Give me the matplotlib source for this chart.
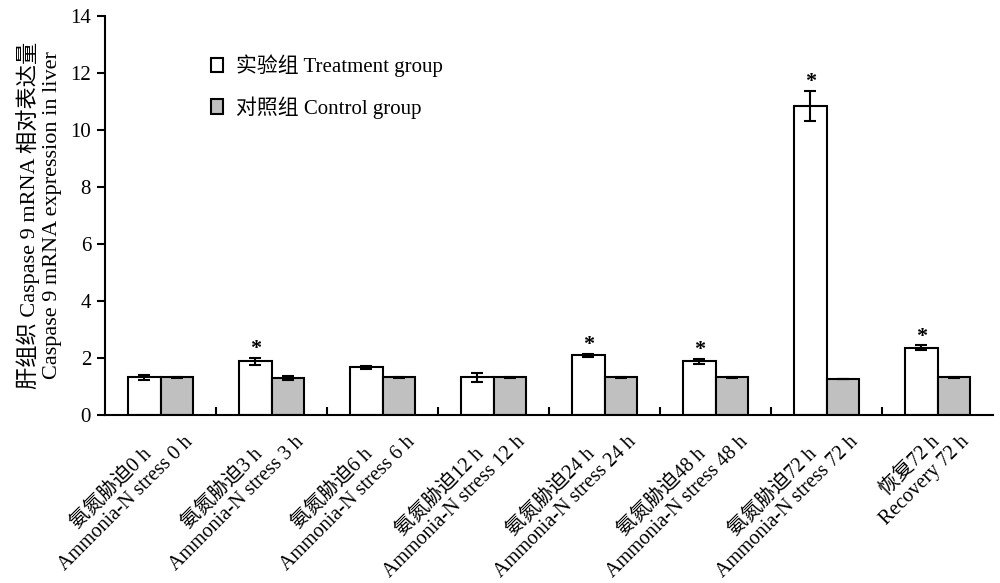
import matplotlib
matplotlib.use("Agg")
import matplotlib.pyplot as plt
import matplotlib.transforms as mtransforms
from matplotlib.patches import Patch
import numpy as np

#----Data----

labels = ["氨氮胁迫0 h\nAmmonia-N stress 0 h",
          "氨氮胁迫3 h\nAmmonia-N stress 3 h",
          "氨氮胁迫6 h\nAmmonia-N stress 6 h",
          "氨氮胁迫12 h\nAmmonia-N stress 12 h",
          "氨氮胁迫24 h\nAmmonia-N stress 24 h",
          "氨氮胁迫48 h\nAmmonia-N stress 48 h",
          "氨氮胁迫72 h\nAmmonia-N stress 72 h",
          "恢复72 h\nRecovery 72 h"]
treatment = [1.32, 1.88, 1.67, 1.32, 2.10, 1.89, 10.85, 2.36]
treatment_err = [0.10, 0.13, 0.05, 0.15, 0.05, 0.09, 0.53, 0.09]
control = [1.32, 1.30, 1.32, 1.32, 1.32, 1.32, 1.28, 1.32]
control_err = [0.01, 0.08, 0.02, 0.01, 0.02, 0.01, 0.0, 0.02]
significant = [False, True, False, False, True, True, True, True]

#----Style----

fonts = ["Liberation Serif", "Noto Sans CJK SC"]
plt.rcParams["font.family"] = fonts
plt.rcParams["font.size"] = 15
plt.rcParams["axes.linewidth"] = 1.5

fig = plt.figure(figsize=(10, 5.83), dpi=100)
ax = fig.add_axes([0.105, 0.288, 0.888, 0.6846])

x = np.arange(len(labels)) + 0.5
w = 0.29

ax.bar(x - w / 2, treatment, w, yerr=treatment_err, color="white",
       edgecolor="black", linewidth=1.5, capsize=4,
       error_kw=dict(elinewidth=1.5, capthick=1.5, ecolor="black"), zorder=2)
ax.bar(x + w / 2, control, w, yerr=control_err, color="#c0c0c0",
       edgecolor="black", linewidth=1.5, capsize=4,
       error_kw=dict(elinewidth=1.5, capthick=1.5, ecolor="black"), zorder=2)

for xi, v, e, s in zip(x, treatment, treatment_err, significant):
    if s:
        ax.text(xi - w / 2, v + e - 0.05, "*", ha="center", va="bottom",
                fontsize=16, fontweight="bold")

#----Axes----

ax.set_xlim(0, len(labels))
ax.set_ylim(0, 14)
ax.set_yticks(np.arange(0, 15, 2))
ax.spines["top"].set_visible(False)
ax.spines["right"].set_visible(False)
ax.tick_params(axis="y", direction="out", length=6, width=1.5, pad=4)

ax.set_xticks(x)
ax.set_xticklabels(labels, rotation=45, ha="right", va="top",
                   rotation_mode="anchor", multialignment="center",
                   linespacing=1.1, fontsize=14.5)
ax.tick_params(axis="x", which="major", length=0, pad=2)
ax.set_xticks(np.arange(1, len(labels)), minor=True)
ax.tick_params(axis="x", which="minor", direction="in", length=6, width=1.5)

offset = mtransforms.ScaledTranslation(8 / 100, 0, fig.dpi_scale_trans)
for lab in ax.get_xticklabels():
    lab.set_transform(lab.get_transform() + offset)

ax.set_ylabel("肝组织 Caspase 9 mRNA 相对表达量\nCaspase 9 mRNA expression in liver",
              multialignment="center", labelpad=6, linespacing=1.2,
              fontsize=16)

handles = [Patch(facecolor="white", edgecolor="black", linewidth=1.5),
           Patch(facecolor="#c0c0c0", edgecolor="black", linewidth=1.5)]
ax.legend(handles, ["实验组 Treatment group", "对照组 Control group"],
          loc="upper left", bbox_to_anchor=(0.098, 0.95), frameon=False,
          handlelength=0.6, handleheight=0.7, handletextpad=0.6,
          labelspacing=0.9)

fig.savefig("out.png", dpi=100)
